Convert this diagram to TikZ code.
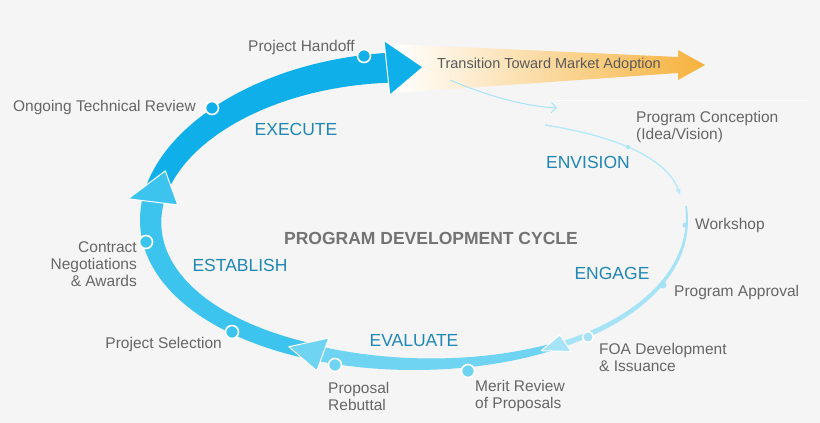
\documentclass[tikz,border=0pt]{standalone}
\usepackage{fontspec}
\setmainfont{Liberation Sans}
\usetikzlibrary{arrows.meta}
\definecolor{bgc}{HTML}{F5F5F5}
\definecolor{c1}{HTML}{A6E3F6}
\definecolor{c2}{HTML}{6FD3F2}
\definecolor{c3}{HTML}{3CC4EE}
\definecolor{c4}{HTML}{0FB0EA}
\definecolor{stage}{HTML}{1F86B5}
\definecolor{lbl}{HTML}{666666}
\definecolor{orng}{HTML}{F6B23C}
\newcommand\bandx[5]{\fill[#5] plot[domain=#1:#2,samples=60] ({414+274*cos(\x)},{220-(159+9*sin(\x))*sin(\x)}) -- plot[domain=#2:#1,samples=60] ({414+(274-(#3+(#4-#3)*(\x-#1)/(#2-#1)))*cos(\x)},{220-(159+9*sin(\x)-(#3+(#4-#3)*(\x-#1)/(#2-#1)))*sin(\x)}) -- cycle;}
\newcommand\headx[5]{\filldraw[fill=#5,draw=white,line width=1pt,line join=round] ({414+(274+#4)*cos(#1)},{220-(159+9*sin(#1)+#4)*sin(#1)}) -- ({414+(274-#3/2)*cos(#2)},{220-(159+9*sin(#2)-#3/2)*sin(#2)}) -- ({414+(274-#3-#4)*cos(#1)},{220-(159+9*sin(#1)-#3-#4)*sin(#1)}) -- cycle;}
\tikzset{
  lab/.style={text=lbl,font=\fontsize{15.5}{17}\selectfont,inner sep=0pt},
  stg/.style={text=stage,font=\fontsize{17.5}{19}\selectfont,inner sep=0pt},
  dotb/.style={circle,fill=#1,draw=white,line width=1.6pt,minimum size=13pt,inner sep=0pt},
  dots/.style={circle,fill=#1,inner sep=0pt,minimum size=5pt},
}
\begin{document}
\begin{tikzpicture}[x=1pt,y=-1pt]
\fill[bgc] (0,0) rectangle (820,423);
\useasboundingbox (0,0) rectangle (820,423);
% transition arrow
\shade[left color=white,right color=orng,shading angle=90] (395,44) -- (678,57) -- (678,50) -- (705,65) -- (678,80) -- (678,73) -- (395,93) -- cycle;
\node[text=black!65,font=\fontsize{14.5}{16}\selectfont] (trans) at (549,65) {Transition Toward Market Adoption};
\draw[white,line width=1pt] (555,100) -- (808,100);
% thin connectors
\coordinate (a1) at (450,80);
\coordinate (a2) at (557,108);
\draw[c1,line width=1pt,-{Straight Barb[length=5pt]}] (a1) .. controls (490,97) and (525,106) .. (a2);
\coordinate (b1) at (545,125);
\coordinate (b2) at (680,195);
\draw[c1!80,line width=1.4pt,-{Stealth[length=7pt]}] (b1) .. controls (615,136) and (668,158) .. (b2);
% bands
\bandx{5}{-58}{1.8}{6}{c1}
\bandx{-58}{-111}{7}{15}{c2}
\bandx{-111}{-189}{16}{22}{c3}
\bandx{-189}{-265}{22}{30}{c4}
\headx{-56}{-62}{6}{7}{c1}
\headx{-110}{-118}{15}{10}{c2}
\headx{-187}{-199}{22}{14}{c3}
\headx{-264}{-272}{30}{12.5}{c4}
% dots
\node[dotb=c4] (d1) at (364,56) {};
\node[dotb=c4] (d2) at (212,108) {};
\node[dotb=c3] (d3) at (146,242) {};
\node[dotb=c3] (d4) at (232,332) {};
\node[dotb=c2] (d5) at (335,365) {};
\node[dotb=c2] (d6) at (468,371) {};
\node[dotb=c1,minimum size=11pt] (d7) at (588,337) {};
\node[dots=c1,minimum size=7pt] (d8) at (663,285) {};
\node[dots=c1] (d9) at (685,225) {};
\node[dots=c1,minimum size=4pt] (d10) at (628,147) {};
% labels
\node[lab,anchor=east] (l1) at (355,47) {Project Handoff};
\node[lab,anchor=east] (l2) at (196,107) {Ongoing Technical Review};
\node[lab,anchor=west,align=left] (l3) at (636,127) {Program Conception\\(Idea/Vision)};
\node[lab,anchor=west] (l4) at (695,225) {Workshop};
\node[lab,anchor=east,align=right] (l5) at (137,264) {Contract\\Negotiations\\\& Awards};
\node[lab,anchor=west] (l6) at (674,292) {Program Approval};
\node[lab,anchor=east] (l7) at (222,344) {Project Selection};
\node[lab,anchor=west,align=left] (l8) at (599,357) {FOA Development\\\& Issuance};
\node[lab,anchor=west,align=left] (l9) at (328,396) {Proposal\\Rebuttal};
\node[lab,anchor=west,align=left] (l10) at (475,396) {Merit Review\\of Proposals};
\node[stg] (s1) at (296,129) {EXECUTE};
\node[stg] (s2) at (588,162) {ENVISION};
\node[stg] (s3) at (240,265) {ESTABLISH};
\node[stg] (s4) at (612,273) {ENGAGE};
\node[stg] (s5) at (414,341) {EVALUATE};
\node[text=black!55,font=\bfseries\fontsize{17.5}{19}\selectfont,inner sep=0pt] (title) at (431,238) {PROGRAM DEVELOPMENT CYCLE};
\end{tikzpicture}
\end{document}
